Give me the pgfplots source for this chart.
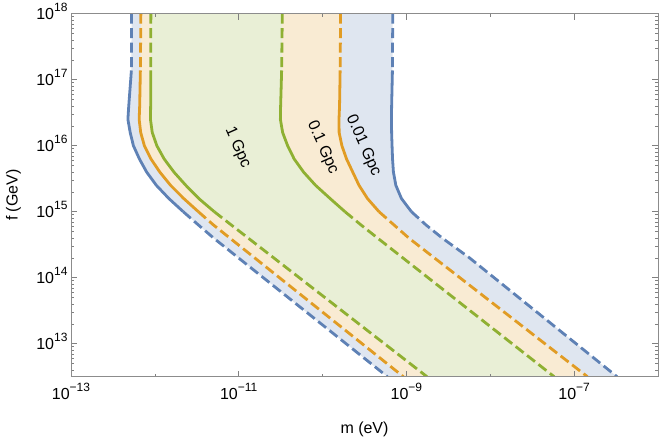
\documentclass[border=0pt]{standalone}
\usepackage{pgfplots}
\pgfplotsset{compat=1.18}
\usepackage{pgfplotstable}
\usepgfplotslibrary{fillbetween}
\usepackage{fontspec}
\setmainfont{Liberation Sans}

\definecolor{mblue}{HTML}{5E81B5}
\definecolor{morange}{HTML}{E19C24}
\definecolor{mgreen}{HTML}{8FB032}
\definecolor{bfill}{HTML}{DFE6F0}
\definecolor{ofill}{HTML}{F9EBD3}
\definecolor{gfill}{HTML}{E9EFD6}

% power-of-ten tick label in text font
\newcommand{\tp}[1]{10\raisebox{7.5pt}{\fontsize{12}{14}\selectfont #1}}

% each branch: row 0 top, row 1 dash->solid, row 10 solid->dash, then down to the bottom
\pgfplotstableread{
m f
5.28e-13 1e18
5.25e-13 1.38e17
4.88e-13 3.98e16
4.77e-13 2.51e16
5.08e-13 1.585e16
5.55e-13 1e16
6.54e-13 6.31e15
7.99e-13 3.98e15
1.042e-12 2.51e15
1.468e-12 1.585e15
2.18e-12 1e15
3.30e-12 6.31e14
5.03e-12 3.98e14
5.94e-10 3.1623e12
}\bL
\pgfplotstableread{
m f
6.87e-10 1e18
6.81e-10 1.38e17
6.66e-10 3.98e16
6.63e-10 2.51e16
6.66e-10 1.585e16
6.74e-10 1e16
6.83e-10 6.31e15
7.00e-10 3.98e15
7.48e-10 2.51e15
8.72e-10 1.585e15
1.147e-9 1e15
1.71e-9 6.31e14
2.68e-9 3.98e14
5.62e-9 2.01e14
3.25e-7 3.1623e12
}\bR
\pgfplotstableread{
m f
6.81e-13 1e18
6.72e-13 1.38e17
6.59e-13 3.98e16
6.50e-13 2.51e16
6.78e-13 1.585e16
7.50e-13 1e16
8.99e-13 6.31e15
1.147e-12 3.98e15
1.54e-12 2.51e15
2.21e-12 1.585e15
3.30e-12 1e15
4.99e-12 6.31e14
7.86e-12 3.98e14
9.21e-10 3.1623e12
}\oL
\pgfplotstableread{
m f
1.64e-10 1e18
1.62e-10 1.38e17
1.594e-10 3.98e16
1.57e-10 2.51e16
1.576e-10 1.585e16
1.70e-10 1e16
1.93e-10 6.31e15
2.29e-10 3.98e15
2.72e-10 2.51e15
3.43e-10 1.585e15
4.71e-10 1e15
7.10e-10 6.31e14
1.07e-9 3.98e14
1.44e-7 3.1623e12
}\oR
\pgfplotstableread{
m f
8.96e-13 1e18
8.94e-13 1.38e17
8.91e-13 3.98e16
8.86e-13 2.51e16
9.31e-13 1.585e16
1.056e-12 1e16
1.29e-12 6.31e15
1.69e-12 3.98e15
2.34e-12 2.51e15
3.34e-12 1.585e15
5.11e-12 1e15
8.14e-12 6.31e14
1.30e-11 3.98e14
1.76e-9 3.1623e12
}\gL
\pgfplotstableread{
m f
3.31e-11 1e18
3.25e-11 1.38e17
3.16e-11 3.98e16
3.14e-11 2.51e16
3.34e-11 1.585e16
3.83e-11 1e16
4.58e-11 6.31e15
5.94e-11 3.98e15
8.25e-11 2.51e15
1.23e-10 1.585e15
1.85e-10 1e15
2.87e-10 6.31e14
4.54e-10 3.98e14
5.78e-8 3.1623e12
}\gR

\pgfplotsset{
  curve/.style={line width=2.8pt, line join=round},
  dsh/.style={dash pattern=on 10pt off 4.5pt},
  seg top/.style={curve, dsh, skip coords between index={2}{99}},
  seg mid/.style={curve, skip coords between index={0}{1}, skip coords between index={11}{99}},
  seg bot/.style={curve, dsh, skip coords between index={0}{10}},
}

\begin{document}
\begin{tikzpicture}
\begin{axis}[
  xmode=log, ymode=log,
  scale only axis, width=587pt, height=363pt,
  xmin=1e-13, xmax=1e-6, ymin=3.1623e12, ymax=1e18,
  xtick={1e-13,1e-11,1e-9,1e-7},
  xticklabels={\tp{−13},\tp{−11},\tp{−9},\tp{−7}},
  minor xtick={1e-12,1e-10,1e-8,1e-6},
  ytick={1e13,1e14,1e15,1e16,1e17,1e18},
  yticklabels={\tp{13},\tp{14},\tp{15},\tp{16},\tp{17},\tp{18}},
  minor ytick={4e12,5e12,6e12,7e12,8e12,9e12,
    2e13,3e13,4e13,5e13,6e13,7e13,8e13,9e13,
    2e14,3e14,4e14,5e14,6e14,7e14,8e14,9e14,
    2e15,3e15,4e15,5e15,6e15,7e15,8e15,9e15,
    2e16,3e16,4e16,5e16,6e16,7e16,8e16,9e16,
    2e17,3e17,4e17,5e17,6e17,7e17,8e17,9e17},
  major tick length=6pt, minor tick length=3pt,
  tick style={black!50, line width=0.6pt},
  axis line style={black!45, line width=0.8pt},
  tick label style={font=\fontsize{16}{19}\selectfont},
  xticklabel style={yshift=-3pt},
  yticklabel style={anchor=base east, yshift=-5.5pt},
  xlabel={m (eV)}, ylabel={f (GeV)},
  every axis x label/.style={at={(axis description cs:0.5,-0.146)}, anchor=center,
    font=\fontsize{16}{19}\selectfont},
  every axis y label/.style={at={(axis description cs:-0.098,0.5)}, anchor=center,
    rotate=90, font=\fontsize{16}{19}\selectfont},
  axis on top,
]
% invisible full branches for the fills
\addplot[draw=none, name path=BL] table {\bL};
\addplot[draw=none, name path=BR] table {\bR};
\addplot[draw=none, name path=OL] table {\oL};
\addplot[draw=none, name path=OR] table {\oR};
\addplot[draw=none, name path=GL] table {\gL};
\addplot[draw=none, name path=GR] table {\gR};
\addplot[fill=bfill, draw=none] fill between[of=BL and BR];
\addplot[fill=ofill, draw=none] fill between[of=OL and OR];
\addplot[fill=gfill, draw=none] fill between[of=GL and GR];

% boundary curves: dashed / solid / dashed
\addplot[mblue, seg top] table {\bL};
\addplot[mblue, seg mid] table {\bL};
\addplot[mblue, seg bot] table {\bL};
\addplot[mblue, seg top] table {\bR};
\addplot[mblue, seg mid] table {\bR};
\addplot[mblue, seg bot] table {\bR};
\addplot[morange, seg top] table {\oL};
\addplot[morange, seg mid] table {\oL};
\addplot[morange, seg bot] table {\oL};
\addplot[morange, seg top] table {\oR};
\addplot[morange, seg mid] table {\oR};
\addplot[morange, seg bot] table {\oR};
\addplot[mgreen, seg top] table {\gL};
\addplot[mgreen, seg mid] table {\gL};
\addplot[mgreen, seg bot] table {\gL};
\addplot[mgreen, seg top] table {\gR};
\addplot[mgreen, seg mid] table {\gR};
\addplot[mgreen, seg bot] table {\gR};

\node[rotate=-66, font=\fontsize{16}{19}\selectfont] at (axis cs:9.7e-12,9.3e15) {1 Gpc};
\node[rotate=-66, font=\fontsize{16}{19}\selectfont] at (axis cs:1.0e-10,9.3e15) {0.1 Gpc};
\node[rotate=-66, font=\fontsize{16}{19}\selectfont] at (axis cs:3.05e-10,1.0e16) {0.01 Gpc};
\end{axis}
\path (current axis.north east) ++(6pt,11pt);
\path (current axis.south west) ++(-71pt,-62pt);
\end{tikzpicture}
\end{document}
